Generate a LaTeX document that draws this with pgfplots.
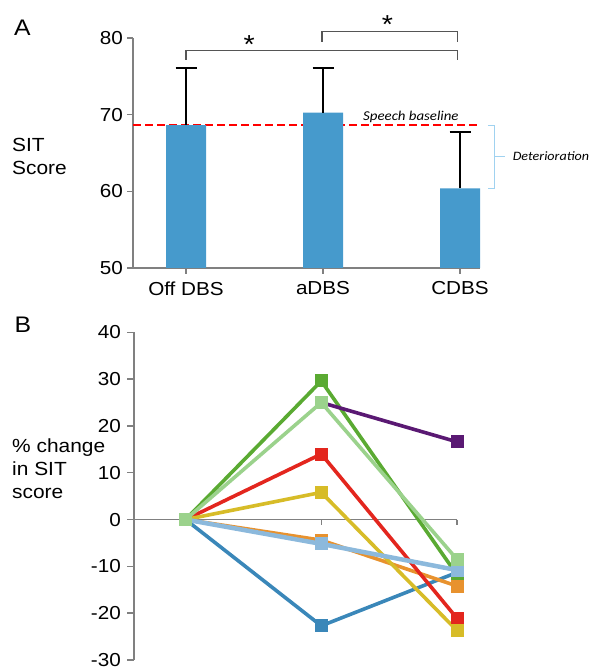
\documentclass[border=0pt]{standalone}
\usepackage{fontspec}
\setmainfont[FakeStretch=1.1]{Liberation Sans}
\newfontfamily\calib[FakeStretch=1.1]{Carlito}
\usepackage{pgfplots}
\pgfplotsset{compat=1.18}
\definecolor{barblue}{RGB}{70,154,204}
\definecolor{axgray}{RGB}{128,128,128}
\definecolor{brgray}{RGB}{85,85,85}
\definecolor{bracecol}{RGB}{160,210,240}
\definecolor{sblue}{RGB}{58,135,185}
\definecolor{sdgreen}{RGB}{90,170,50}
\definecolor{sorange}{RGB}{232,146,46}
\definecolor{sred}{RGB}{227,38,30}
\definecolor{syellow}{RGB}{215,188,40}
\definecolor{spurple}{RGB}{90,25,115}
\definecolor{slblue}{RGB}{140,185,220}
\definecolor{slgreen}{RGB}{155,210,140}
\pgfplotsset{
  noarrows/.style={
    every outer x axis line/.append style={-},
    every outer y axis line/.append style={-},
    every inner x axis line/.append style={-},
    every inner y axis line/.append style={-},
    axis line style={-, axgray, line width=1.4pt},
  },
  serie/.style={color=#1, line width=3.6pt, line join=round, mark=square*,
    mark size=6pt, mark options={solid, line width=0pt, fill=#1, draw=#1}},
}
\begin{document}
\begin{tikzpicture}
\path[use as bounding box] (0pt,0pt) rectangle (592pt,669pt);
% panel letters and y labels
\node[anchor=base west, inner sep=0pt, font=\fontsize{22.5}{27}\selectfont] at (14pt,633pt) {A};
\node[anchor=base west, inner sep=0pt, font=\fontsize{22.5}{27}\selectfont] at (14.5pt,336pt) {B};
\node[anchor=base west, inner sep=0pt, font=\fontsize{19}{23}\selectfont] at (12pt,517.3pt) {SIT};
\node[anchor=base west, inner sep=0pt, font=\fontsize{19}{23}\selectfont] at (12pt,494pt) {Score};
\node[anchor=base west, inner sep=0pt, font=\fontsize{19}{23}\selectfont] at (12pt,216.3pt) {\% change};
\node[anchor=base west, inner sep=0pt, font=\fontsize{19}{23}\selectfont] at (12pt,193pt) {in SIT};
\node[anchor=base west, inner sep=0pt, font=\fontsize{19}{23}\selectfont] at (12pt,170pt) {score};

% ---------------- Panel A ----------------
\begin{axis}[
  at={(133pt,401pt)}, anchor=south west, scale only axis,
  width=347pt, height=230pt,
  xmin=-0.387, xmax=2.146, ymin=50, ymax=80,
  axis x line*=bottom, axis y line*=left, noarrows,
  xtick={0,1,2}, xticklabels={Off DBS,aDBS,CDBS},
  ytick={50,60,70,80}, yticklabels={50,60,70,80},
  tick align=outside, major tick length=6pt,
  tick style={axgray, line width=1.4pt},
  ticklabel style={font=\fontsize{18.8}{23}\selectfont},
  yticklabel style={inner xsep=4pt},
  xticklabel style={yshift=-4pt},
  clip mode=individual,
]
\addplot[red, line width=2pt, dash pattern=on 8pt off 4pt] coordinates {(-0.387,68.65) (2.146,68.65)};
\addplot[ybar, bar width=40pt, fill=barblue, draw=none,
  error bars/.cd, y dir=plus, y explicit,
  error bar style={black, line width=1.8pt},
  error mark options={black, line width=1.8pt, mark size=10.5pt, rotate=90}]
  coordinates {(0,68.65) +- (0,7.48) (1,70.26) +- (0,5.87) (2,60.4) +- (0,7.38)};
% significance brackets
\draw[brgray, line width=1.4pt] (axis cs:0,77.13) -- (axis cs:0,78.35) -- (axis cs:1.983,78.35) -- (axis cs:1.983,77.13);
\draw[brgray, line width=1.4pt] (axis cs:0.993,79.52) -- (axis cs:0.993,80.83) -- (axis cs:1.983,80.83) -- (axis cs:1.983,79.52);
\node[anchor=base, inner sep=0pt, font=\fontsize{26}{30}\selectfont] at (axis cs:0.462,77.93) {*};
\node[anchor=base, inner sep=0pt, font=\fontsize{26}{30}\selectfont] at (axis cs:1.47,80.53) {*};
% annotations
\node[anchor=base west, inner sep=0pt, font=\calib\itshape\fontsize{13.5}{16}\selectfont] at (axis cs:1.292,69.3) {Speech baseline};
\draw[bracecol, line width=0.9pt] (axis cs:2.204,68.65) -- (axis cs:2.255,68.65) -- (axis cs:2.255,60.44) -- (axis cs:2.204,60.44);
\draw[bracecol, line width=0.9pt] (axis cs:2.255,64.52) -- (axis cs:2.328,64.52);
\node[anchor=west, inner sep=0pt, font=\calib\itshape\fontsize{12.8}{16}\selectfont] at (axis cs:2.384,64.6) {Deterioration};
\end{axis}

% ---------------- Panel B ----------------
\begin{axis}[
  at={(134pt,9pt)}, anchor=south west, scale only axis,
  width=323pt, height=327.7pt,
  xmin=-0.38, xmax=2, ymin=-30, ymax=40,
  axis x line=middle, axis y line=left, noarrows,
  xtick=\empty,
  ytick={-30,-20,-10,0,10,20,30,40},
  yticklabels={-30,-20,-10,0,10,20,30,40},
  tick align=outside, major tick length=7pt,
  tick style={axgray, line width=1.4pt},
  ticklabel style={font=\fontsize{18.8}{23}\selectfont},
  yticklabel style={inner xsep=6pt},
  clip=false,
]
\draw[axgray, line width=1.4pt] (axis cs:1,0) -- ++(0pt,-5pt);
\draw[axgray, line width=1.4pt] (axis cs:2,0) -- ++(0pt,-5pt);
\addplot[serie=sblue] coordinates {(0,0) (1,-22.7) (2,-11.3)};
\addplot[serie=sdgreen] coordinates {(0,0) (1,29.6) (2,-11.8)};
\addplot[serie=sorange] coordinates {(0,0) (1,-4.4) (2,-14.2)};
\addplot[serie=sred] coordinates {(0,0) (1,14.0) (2,-21.1)};
\addplot[serie=syellow] coordinates {(0,0) (1,5.8) (2,-23.7)};
\addplot[serie=spurple] coordinates {(1,25) (2,16.6)};
\addplot[serie=slblue, line width=4.5pt] coordinates {(0,0) (1,-5.2) (2,-10.8)};
\addplot[serie=slgreen] coordinates {(0,0) (1,25) (2,-8.5)};
\end{axis}
\end{tikzpicture}
\end{document}
